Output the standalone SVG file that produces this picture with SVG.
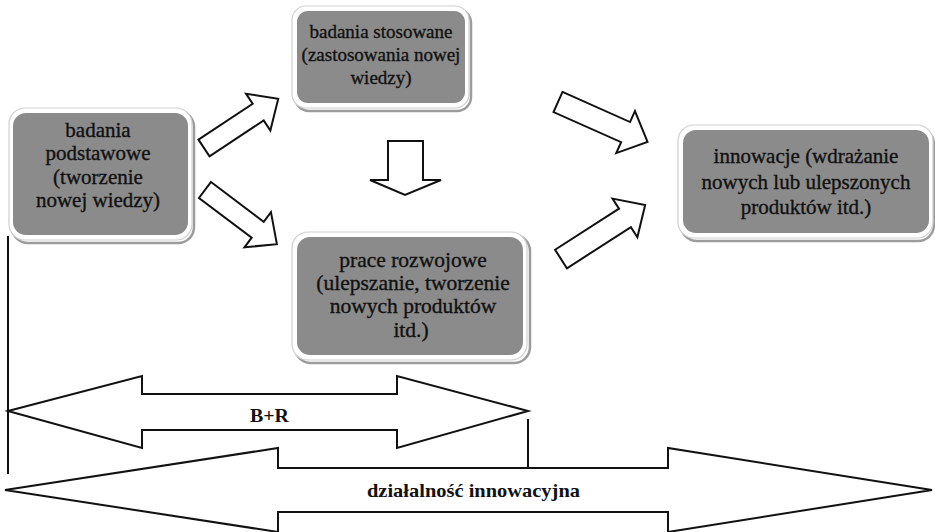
<svg xmlns="http://www.w3.org/2000/svg" width="935" height="532" viewBox="0 0 935 532">
<style>
.shadow{fill:none;stroke:#9c9c9c;stroke-width:2.5}
.rim{fill:#ffffff;stroke:#cfcfcf;stroke-width:1.2}
.box{fill:#8b8b8b;stroke:none}
.t{font-family:"Liberation Serif","Times New Roman",serif;fill:#111;stroke:#111;stroke-width:0.35;text-anchor:middle}
.arr{fill:#ffffff;stroke:#111;stroke-width:2;stroke-linejoin:miter}
.ln{stroke:#111;stroke-width:2;fill:none}
.lbl{font-family:"Liberation Serif","Times New Roman",serif;font-weight:bold;fill:#111;text-anchor:middle}
</style>
<rect width="935" height="532" fill="#ffffff"/>
<g id="node-podstawowe">
<rect class="shadow" x="12" y="111" width="182" height="132" rx="16"/>
<rect class="rim" x="9" y="108" width="183" height="132" rx="16"/>
<rect class="box" x="13" y="113" width="175" height="122" rx="13"/>
<text class="t" font-size="21" x="98" y="137">badania</text>
<text class="t" font-size="21" x="98" y="160">podstawowe</text>
<text class="t" font-size="21" x="98" y="184">(tworzenie</text>
<text class="t" font-size="21" x="98" y="207">nowej wiedzy)</text>
</g>
<g id="node-stosowane">
<rect class="shadow" x="295" y="9" width="176" height="102" rx="14"/>
<rect class="rim" x="292" y="6" width="177" height="102" rx="14"/>
<rect class="box" x="297" y="11" width="168" height="92" rx="11"/>
<text class="t" font-size="19" x="381" y="38">badania stosowane</text>
<text class="t" font-size="19" x="381" y="61">(zastosowania nowej</text>
<text class="t" font-size="19" x="381" y="84">wiedzy)</text>
</g>
<g id="node-rozwojowe">
<rect class="shadow" x="295" y="235" width="235" height="128" rx="16"/>
<rect class="rim" x="292" y="232" width="235" height="128" rx="16"/>
<rect class="box" x="297" y="237" width="226" height="118" rx="13"/>
<text class="t" font-size="21.5" x="413" y="267">prace rozwojowe</text>
<text class="t" font-size="21.5" x="413" y="290">(ulepszanie, tworzenie</text>
<text class="t" font-size="21.5" x="413" y="313">nowych produktów</text>
<text class="t" font-size="21.5" x="411" y="337">itd.)</text>
</g>
<g id="node-innowacje">
<rect class="shadow" x="681" y="128" width="253" height="113" rx="16"/>
<rect class="rim" x="678" y="125" width="255" height="113" rx="16"/>
<rect class="box" x="683" y="130" width="246" height="103" rx="13"/>
<text class="t" font-size="21" x="806" y="163">innowacje (wdrażanie</text>
<text class="t" font-size="21" x="806" y="189">nowych lub ulepszonych</text>
<text class="t" font-size="21" x="806" y="214">produktów itd.)</text>
</g>
<g id="connectors">
<polygon class="arr" transform="translate(204,148) rotate(-33.5)" points="0,-10 65,-10 65,-22 89,0 65,22 65,10 0,10"/>
<polygon class="arr" transform="translate(205,190) rotate(37)" points="0,-10 66,-10 66,-22 90,0 66,22 66,10 0,10"/>
<polygon class="arr" transform="translate(558,102) rotate(24)" points="0,-11 74,-11 74,-23 98,0 74,23 74,11 0,11"/>
<polygon class="arr" transform="translate(561,259) rotate(-32.7)" points="0,-11 76,-11 76,-23 100,0 76,23 76,11 0,11"/>
<polygon class="arr" points="388,141 423,141 423,180 441,180 405,195 370,180 388,180"/>
<line class="ln" x1="8" y1="236" x2="8" y2="474"/>
<line class="ln" x1="528" y1="419" x2="528" y2="468"/>
<polygon class="arr" points="8,411 142,376 142,394 397,394 397,376 528,411 397,448 397,430 142,430 142,448"/>
<polygon class="arr" points="5,490 278,448 278,468 668,468 668,448 932,490 668,532 668,512 278,512 278,532"/>
<text class="lbl" font-size="18" x="269.5" y="422" textLength="39" lengthAdjust="spacingAndGlyphs">B+R</text>
<text class="lbl" font-size="19" x="473.5" y="497" textLength="213" lengthAdjust="spacingAndGlyphs">działalność innowacyjna</text>
</g>
</svg>
